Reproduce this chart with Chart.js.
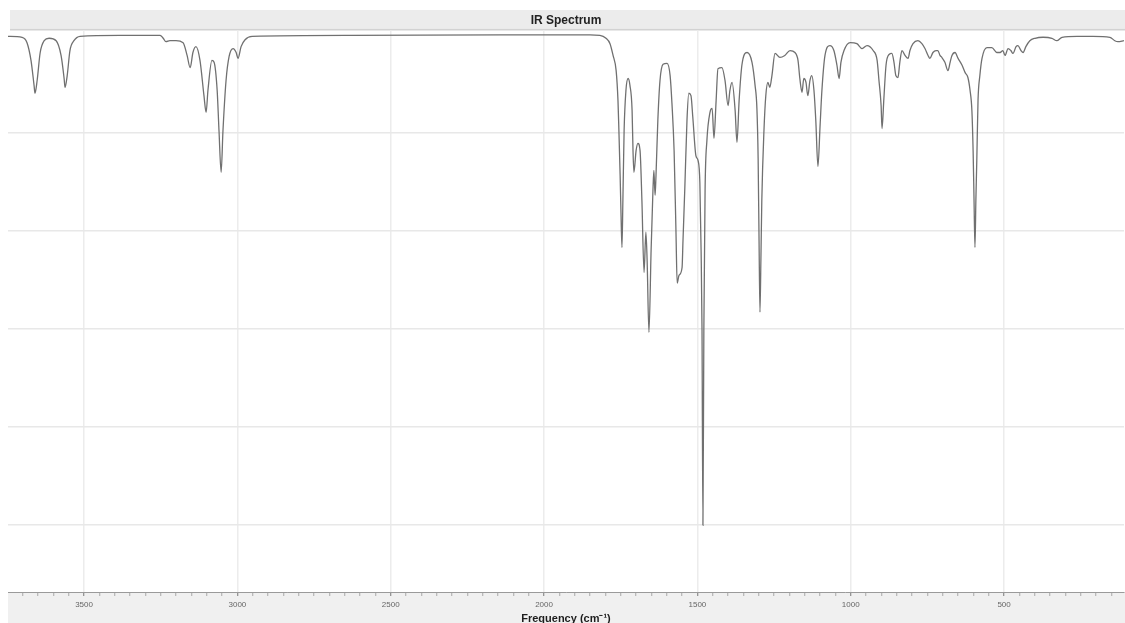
<!DOCTYPE html>
<html>
<head>
<meta charset="utf-8">
<title>IR Spectrum</title>
<script src="https://cdn.jsdelivr.net/npm/chart.js@4.4.1/dist/chart.umd.min.js"></script>
<style>
  html, body { margin: 0; padding: 0; background: #ffffff; overflow: hidden; }
  #wrap { position: relative; width: 1125px; height: 623px; }
  canvas { display: block; }
</style>
</head>
<body>
<div id="wrap"><canvas id="ir" width="1125" height="623"></canvas></div>
<script>
// Wavenumbers (cm^-1) of the traced spectrum, high to low
const wavenumbers = [
  3748, 3702, 3686, 3673, 3663, 3660, 3653, 3643, 3630, 3614,
  3591, 3575, 3565, 3562, 3555, 3546, 3533, 3513, 3383, 3252,
  3242, 3233, 3220, 3200, 3177, 3164, 3154, 3145, 3135, 3122,
  3109, 3102, 3096, 3083, 3076, 3066, 3060, 3053, 3047, 3037,
  3027, 3014, 3004, 2998, 2988, 2975, 2952, 2633, 2144, 1850,
  1818, 1798, 1785, 1775, 1765, 1759, 1756, 1752, 1749, 1746,
  1743, 1739, 1733, 1726, 1720, 1713, 1710, 1707, 1700, 1694,
  1687, 1681, 1674, 1668, 1664, 1658, 1651, 1645, 1642, 1638,
  1635, 1629, 1622, 1612, 1599, 1589, 1583, 1576, 1570, 1566,
  1560, 1550, 1547, 1541, 1534, 1528, 1521, 1515, 1505, 1498,
  1492, 1488, 1485, 1482, 1479, 1475, 1469, 1459, 1452, 1446,
  1439, 1433, 1420, 1410, 1400, 1394, 1387, 1377, 1371, 1364,
  1355, 1338, 1322, 1312, 1306, 1302, 1299, 1296, 1293, 1290,
  1283, 1277, 1270, 1264, 1257, 1247, 1231, 1215, 1198, 1182,
  1172, 1166, 1159, 1153, 1146, 1140, 1133, 1127, 1120, 1114,
  1107, 1100, 1094, 1084, 1068, 1055, 1045, 1038, 1032, 1022,
  1002, 980, 963, 947, 927, 914, 908, 901, 898, 892,
  885, 875, 866, 859, 853, 846, 840, 833, 823, 813,
  807, 797, 781, 768, 758, 748, 742, 732, 722, 716,
  709, 703, 693, 683, 676, 670, 660, 650, 637, 627,
  618, 611, 605, 601, 598, 595, 592, 589, 585, 579,
  572, 556, 540, 523, 513, 504, 497, 487, 478, 471,
  461, 455, 445, 438, 429, 416, 399, 373, 344, 328,
  311, 262, 210, 155, 139, 129, 109
];

// Transmittance (%) at each wavenumber above
const transmittance = [
  99.6, 99.4, 98.3, 94.7, 89.6, 88.0, 90.6, 96.3, 98.7, 99.2,
  98.7, 95.7, 91.0, 89.2, 91.6, 96.7, 98.7, 99.6, 99.8, 99.8,
  99.2, 98.5, 98.7, 98.7, 98.3, 95.7, 93.2, 96.3, 97.5, 94.7,
  87.5, 84.1, 88.6, 94.7, 94.3, 88.6, 80.4, 71.9, 80.4, 90.6,
  95.5, 97.1, 96.3, 95.1, 97.5, 98.9, 99.6, 99.8, 99.9, 99.9,
  99.8, 99.2, 98.1, 95.7, 92.6, 86.5, 80.4, 71.3, 63.1, 56.6,
  66.2, 80.4, 88.6, 91.0, 89.6, 84.5, 76.3, 71.9, 76.3, 77.8,
  76.3, 66.2, 51.5, 59.7, 54.0, 39.3, 56.0, 68.2, 72.3, 67.2,
  71.3, 82.5, 90.6, 93.9, 94.1, 91.6, 85.9, 76.3, 60.1, 49.3,
  50.9, 52.5, 58.0, 68.8, 82.5, 88.0, 87.5, 83.1, 75.3, 74.3,
  69.8, 56.0, 39.7, 0.0, 39.7, 68.2, 78.4, 84.1, 84.9, 78.8,
  86.5, 93.0, 93.2, 90.6, 85.5, 88.6, 90.2, 84.5, 78.0, 86.5,
  93.7, 96.3, 94.3, 89.6, 84.9, 74.7, 58.0, 43.4, 54.0, 66.2,
  80.4, 87.5, 90.2, 89.2, 91.6, 96.1, 95.3, 95.7, 96.7, 96.3,
  94.7, 91.0, 88.2, 91.0, 90.2, 87.5, 90.6, 91.6, 88.6, 82.5,
  73.1, 81.4, 88.6, 95.7, 97.7, 96.7, 93.7, 91.0, 94.3, 96.7,
  98.3, 98.1, 97.1, 97.7, 96.7, 94.7, 90.6, 85.5, 80.8, 86.9,
  93.7, 95.9, 96.1, 94.3, 91.6, 91.2, 94.3, 96.7, 95.7, 95.1,
  96.7, 98.1, 98.7, 98.1, 97.1, 95.7, 95.1, 96.3, 96.7, 96.7,
  95.7, 95.3, 94.3, 92.6, 94.3, 95.7, 96.3, 95.1, 93.7, 92.2,
  91.2, 88.6, 84.5, 76.3, 66.2, 56.6, 66.2, 74.3, 86.5, 91.6,
  95.1, 97.3, 97.3, 96.3, 96.3, 96.7, 95.7, 97.1, 96.7, 96.1,
  97.5, 97.7, 96.7, 96.3, 97.5, 98.7, 99.2, 99.4, 99.2, 98.7,
  99.4, 99.6, 99.6, 99.4, 98.7, 98.5, 98.7
];

// Axis ranges and labelled ticks
const xRange = { high: 3748, low: 109 };
const yRange = { min: -13.6, max: 100.8 };
const xMajorTicks = [3500, 3000, 2500, 2000, 1500, 1000, 500];
const yGridTicks = [0, 20, 40, 60, 80];
const xMinorStep = 50;

const points = wavenumbers.map((w, i) => ({ x: w, y: transmittance[i] }));

// Grey header band behind the title and grey band under the frequency axis
const panelBands = {
  id: 'panelBands',
  beforeDraw(chart) {
    const { ctx, chartArea, width, height } = chart;
    ctx.save();
    ctx.fillStyle = '#ececec';
    ctx.fillRect(10, 10, width - 10, chartArea.top - 10);
    ctx.fillStyle = '#d2d2d2';
    ctx.fillRect(10, chartArea.top - 1.5, width - 10, 1.5);
    ctx.fillStyle = '#f0f0f0';
    ctx.fillRect(8, chartArea.bottom, width - 8, height - chartArea.bottom);
    ctx.restore();
  }
};

new Chart(document.getElementById('ir'), {
  type: 'line',
  data: {
    datasets: [{
      label: 'IR Spectrum',
      data: points,
      borderColor: '#707070',
      borderWidth: 1.3,
      pointRadius: 0,
      fill: false,
      tension: 0,
      cubicInterpolationMode: 'monotone'
    }]
  },
  options: {
    responsive: false,
    animation: false,
    devicePixelRatio: 1,
    layout: { padding: { top: 10, left: 8, right: 1, bottom: 0 } },
    plugins: {
      legend: { display: false },
      tooltip: { enabled: false },
      title: {
        display: true,
        text: 'IR Spectrum',
        color: '#222222',
        font: { family: 'Liberation Sans, Arial, sans-serif', size: 12, weight: 'bold' },
        padding: { top: 3, bottom: 3 }
      }
    },
    scales: {
      x: {
        type: 'linear',
        reverse: true,
        min: xRange.low,
        max: xRange.high,
        afterBuildTicks(scale) {
          const ticks = [];
          const start = Math.ceil(xRange.low / xMinorStep) * xMinorStep;
          for (let v = start; v <= xRange.high; v += xMinorStep) ticks.push({ value: v });
          scale.ticks = ticks;
        },
        afterFit(scale) { scale.height = 31; },
        ticks: {
          autoSkip: false,
          maxRotation: 0,
          padding: 4,
          color: '#666666',
          font: { family: 'Liberation Sans, Arial, sans-serif', size: 8 },
          callback: (v) => xMajorTicks.includes(v) ? String(v) : ''
        },
        grid: {
          drawOnChartArea: true,
          color: (c) => (c.tick && xMajorTicks.includes(c.tick.value)) ? '#ececec' : 'rgba(0,0,0,0)',
          lineWidth: 1.5,
          tickLength: 4,
          tickColor: (c) => (c.tick && xMajorTicks.includes(c.tick.value)) ? '#777777' : '#a8a8a8',
          tickWidth: 1
        },
        border: { display: true, color: '#9a9a9a', width: 1 },
        title: {
          display: true,
          text: 'Frequency (cm⁻¹)',
          color: '#1e1e1e',
          font: { family: 'Liberation Sans, Arial, sans-serif', size: 11, weight: 'bold' },
          padding: { top: 0, bottom: -3 }
        }
      },
      y: {
        type: 'linear',
        min: yRange.min,
        max: yRange.max,
        afterBuildTicks(scale) {
          scale.ticks = yGridTicks.map((v) => ({ value: v }));
        },
        afterFit(scale) { scale.width = 0; },
        ticks: { display: false },
        grid: { color: '#e8e8e8', lineWidth: 1.5, drawTicks: false },
        border: { display: false }
      }
    }
  },
  plugins: [panelBands]
});
</script>
</body>
</html>
